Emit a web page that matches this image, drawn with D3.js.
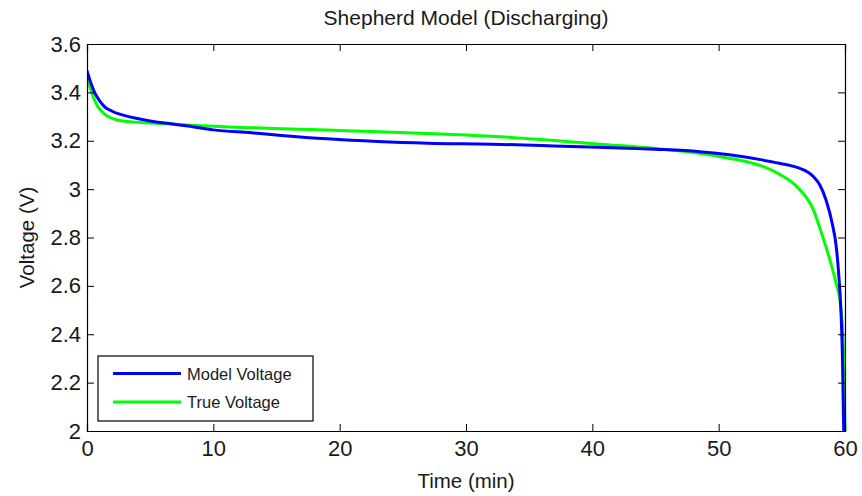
<!DOCTYPE html>
<html>
<head>
<meta charset="utf-8">
<script src="https://cdn.jsdelivr.net/npm/d3@7"></script>
<style>
  body { margin: 0; background: #fff; }
  svg { display: block; font-family: "Liberation Sans", Arial, sans-serif; }
</style>
</head>
<body>
<svg class="chart" width="862" height="496"></svg>
<script>
// values
const modelTime = [0, 0.3, 0.6, 1, 1.4, 2, 2.4, 3, 3.8, 5, 6.5, 8, 10, 13, 15.4, 19, 23, 27, 32, 36, 40.5, 45, 48.5, 51, 53.3, 54.8, 56.2, 57, 57.5, 58, 58.5, 59, 59.3, 59.5, 59.7, 59.8, 59.9];
const modelVoltage = [3.49, 3.44, 3.40, 3.365, 3.34, 3.322, 3.313, 3.304, 3.294, 3.282, 3.271, 3.261, 3.245, 3.233, 3.222, 3.208, 3.197, 3.19, 3.186, 3.18, 3.173, 3.165, 3.155, 3.141, 3.122, 3.107, 3.09, 3.072, 3.052, 3.018, 2.955, 2.855, 2.765, 2.65, 2.47, 2.3, 2.0];
const trueTime = [0, 0.3, 0.87, 1.4, 2.4, 3.8, 6.4, 9, 13, 15.4, 19, 23.2, 28, 32.7, 36, 40.6, 45, 48.5, 50.9, 52.3, 53.6, 54.8, 56.2, 57.5, 58, 58.5, 59.06, 59.3, 59.6, 59.85, 60];
const trueVoltage = [3.47, 3.41, 3.34, 3.31, 3.286, 3.277, 3.27, 3.262, 3.254, 3.25, 3.244, 3.237, 3.228, 3.217, 3.205, 3.186, 3.168, 3.148, 3.127, 3.112, 3.092, 3.062, 3.01, 2.914, 2.84, 2.76, 2.66, 2.61, 2.54, 2.38, 2.0];
const xTicks = [0, 10, 20, 30, 40, 50, 60];
const yTicks = [2, 2.2, 2.4, 2.6, 2.8, 3, 3.2, 3.4, 3.6];
const seriesNames = ['Model Voltage', 'True Voltage'];
const seriesColors = ['#0000ff', '#00ff00'];

const margin = { top: 44, left: 87, bottom: 65, right: 17 };
const viewBox = { width: 862, height: 496 };
const width = viewBox.width - margin.left - margin.right;
const height = viewBox.height - margin.top - margin.bottom;

const xScale = d3.scaleLinear().domain([0, 60]).range([0, width]);
const yScale = d3.scaleLinear().domain([2, 3.6]).range([height, 0]);

const svg = d3.select('.chart');
svg.append('rect').attr('width', viewBox.width).attr('height', viewBox.height).attr('fill', '#fff');

const chart = svg.append('g')
  .attr('transform', `translate(${margin.left}, ${margin.top})`);

// plot lines, clipped to the axes box
chart.append('clipPath').attr('id', 'plot-clip')
  .append('rect').attr('y', -2).attr('width', width + 2).attr('height', height + 2);

const line = d3.line()
  .curve(d3.curveMonotoneX)
  .x(d => xScale(d[0]))
  .y(d => yScale(d[1]));

const series = [
  d3.zip(modelTime, modelVoltage),
  d3.zip(trueTime, trueVoltage),
];

// green drawn first so blue sits on top, like the reference
[1, 0].forEach(i => {
  chart.append('path')
    .datum(series[i])
    .attr('clip-path', 'url(#plot-clip)')
    .attr('fill', 'none')
    .attr('stroke', seriesColors[i])
    .attr('stroke-width', 3)
    .attr('stroke-linejoin', 'round')
    .attr('d', line);
});

// axes: ticks pointing inward on all four sides
const tickLen = 7;
const fmt = d => String(+d.toFixed(1));

const xAxis = d3.axisBottom(xScale).tickValues(xTicks).tickSize(-tickLen).tickPadding(9).tickFormat(fmt);
const xAxisTop = d3.axisTop(xScale).tickValues(xTicks).tickSize(-tickLen).tickFormat('');
const yAxis = d3.axisLeft(yScale).tickValues(yTicks).tickSize(-tickLen).tickPadding(6).tickFormat(fmt);
const yAxisRight = d3.axisRight(yScale).tickValues(yTicks).tickSize(-tickLen).tickFormat('');

const gx = chart.append('g').attr('transform', `translate(0, ${height})`).call(xAxis);
const gxt = chart.append('g').call(xAxisTop);
const gy = chart.append('g').call(yAxis);
const gyr = chart.append('g').attr('transform', `translate(${width}, 0)`).call(yAxisRight);

[gx, gxt, gy, gyr].forEach(g => {
  g.select('.domain').attr('stroke', '#000').attr('stroke-width', 1.2);
  g.selectAll('.tick line').attr('stroke', '#000');
  g.selectAll('text').attr('fill', '#1a1a1a').style('font-size', '22px').style('font-family', '"Liberation Sans", Arial, sans-serif');
});

// title and axis labels
svg.append('text')
  .attr('x', margin.left + width / 2)
  .attr('y', 25)
  .attr('text-anchor', 'middle')
  .style('font-size', '21px')
  .attr('fill', '#1a1a1a')
  .text('Shepherd Model (Discharging)');

svg.append('text')
  .attr('x', margin.left + width / 2)
  .attr('y', 488)
  .attr('text-anchor', 'middle')
  .style('font-size', '20.5px')
  .attr('fill', '#1a1a1a')
  .text('Time (min)');

svg.append('text')
  .attr('transform', `translate(34, ${margin.top + height / 2}) rotate(-90)`)
  .attr('text-anchor', 'middle')
  .style('font-size', '20.5px')
  .attr('fill', '#1a1a1a')
  .text('Voltage (V)');

// legend
const legend = chart.append('g').attr('transform', 'translate(11, 312)');
legend.append('rect')
  .attr('width', 215)
  .attr('height', 65)
  .attr('fill', '#fff')
  .attr('stroke', '#000')
  .attr('stroke-width', 1.2);

seriesNames.forEach((name, i) => {
  const y = 17.5 + i * 28.5;
  legend.append('line')
    .attr('x1', 15).attr('x2', 83)
    .attr('y1', y).attr('y2', y)
    .attr('stroke', seriesColors[i])
    .attr('stroke-width', 3);
  legend.append('text')
    .attr('x', 89)
    .attr('y', y + 6)
    .style('font-size', '16.5px')
    .attr('fill', '#1a1a1a')
    .text(name);
});
</script>
</body>
</html>
